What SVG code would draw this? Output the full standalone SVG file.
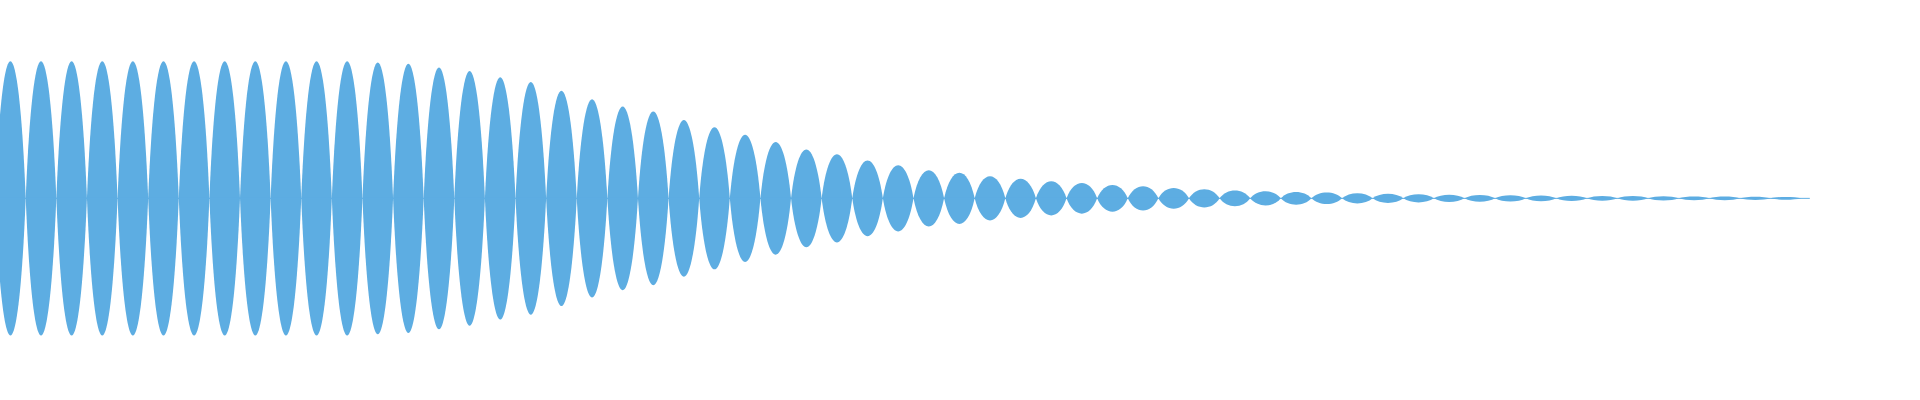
<svg xmlns="http://www.w3.org/2000/svg" xmlns:xlink="http://www.w3.org/1999/xlink" width="1920" height="400" viewBox="0 0 1920 400">
<style>use{fill:#5DADE2}</style>
<defs><path id="l" d="M0,0 C6,-1.333 19,-1.333 25,0 C19,1.333 6,1.333 0,0Z"/></defs>
<rect width="1920" height="400" fill="#fff"/>
<g id="wave" transform="scale(1.2245)">
<use href="#l" transform="translate(-4,162) scale(1,112)"/>
<use href="#l" transform="translate(21,162) scale(1,112)"/>
<use href="#l" transform="translate(46,162) scale(1,112)"/>
<use href="#l" transform="translate(71,162) scale(1,112)"/>
<use href="#l" transform="translate(96,162) scale(1,112)"/>
<use href="#l" transform="translate(121,162) scale(1,112)"/>
<use href="#l" transform="translate(146,162) scale(1,112)"/>
<use href="#l" transform="translate(171,162) scale(1,112)"/>
<use href="#l" transform="translate(196,162) scale(1,112)"/>
<use href="#l" transform="translate(221,162) scale(1,112)"/>
<use href="#l" transform="translate(246,162) scale(1,112)"/>
<use href="#l" transform="translate(271,162) scale(1,112)"/>
<use href="#l" transform="translate(296,162) scale(1,111)"/>
<use href="#l" transform="translate(321,162) scale(1,110)"/>
<use href="#l" transform="translate(346,162) scale(1,107)"/>
<use href="#l" transform="translate(371,162) scale(1,104)"/>
<use href="#l" transform="translate(396,162) scale(1,99)"/>
<use href="#l" transform="translate(421,162) scale(1,95)"/>
<use href="#l" transform="translate(446,162) scale(1,88)"/>
<use href="#l" transform="translate(471,162) scale(1,81)"/>
<use href="#l" transform="translate(496,162) scale(1,75)"/>
<use href="#l" transform="translate(521,162) scale(1,71)"/>
<use href="#l" transform="translate(546,162) scale(1,64)"/>
<use href="#l" transform="translate(571,162) scale(1,58)"/>
<use href="#l" transform="translate(596,162) scale(1,52)"/>
<use href="#l" transform="translate(621,162) scale(1,46)"/>
<use href="#l" transform="translate(646,162) scale(1,40)"/>
<use href="#l" transform="translate(671,162) scale(1,36)"/>
<use href="#l" transform="translate(696,162) scale(1,31)"/>
<use href="#l" transform="translate(721,162) scale(1,27)"/>
<use href="#l" transform="translate(746,162) scale(1,23)"/>
<use href="#l" transform="translate(771,162) scale(1,21)"/>
<use href="#l" transform="translate(796,162) scale(1,18)"/>
<use href="#l" transform="translate(821,162) scale(1,16)"/>
<use href="#l" transform="translate(846,162) scale(1,14)"/>
<use href="#l" transform="translate(871,162) scale(1,12.5)"/>
<use href="#l" transform="translate(896,162) scale(1,11)"/>
<use href="#l" transform="translate(921,162) scale(1,10)"/>
<use href="#l" transform="translate(946,162) scale(1,8.5)"/>
<use href="#l" transform="translate(971,162) scale(1,7.5)"/>
<use href="#l" transform="translate(996,162) scale(1,6.5)"/>
<use href="#l" transform="translate(1021,162) scale(1,5.8)"/>
<use href="#l" transform="translate(1046,162) scale(1,5.2)"/>
<use href="#l" transform="translate(1071,162) scale(1,4.7)"/>
<use href="#l" transform="translate(1096,162) scale(1,4.2)"/>
<use href="#l" transform="translate(1121,162) scale(1,3.7)"/>
<use href="#l" transform="translate(1146,162) scale(1,3.3)"/>
<use href="#l" transform="translate(1171,162) scale(1,3)"/>
<use href="#l" transform="translate(1196,162) scale(1,2.8)"/>
<use href="#l" transform="translate(1221,162) scale(1,2.6)"/>
<use href="#l" transform="translate(1246,162) scale(1,2.4)"/>
<use href="#l" transform="translate(1271,162) scale(1,2.2)"/>
<use href="#l" transform="translate(1296,162) scale(1,2)"/>
<use href="#l" transform="translate(1321,162) scale(1,1.9)"/>
<use href="#l" transform="translate(1346,162) scale(1,1.8)"/>
<use href="#l" transform="translate(1371,162) scale(1,1.6)"/>
<use href="#l" transform="translate(1396,162) scale(1,1.5)"/>
<use href="#l" transform="translate(1421,162) scale(1,1.4)"/>
<use href="#l" transform="translate(1446,162) scale(1,1.2)"/>
<line x1="0" y1="162" x2="1478" y2="162" stroke="#5DADE2" stroke-width="0.8"/>
</g>
</svg>
